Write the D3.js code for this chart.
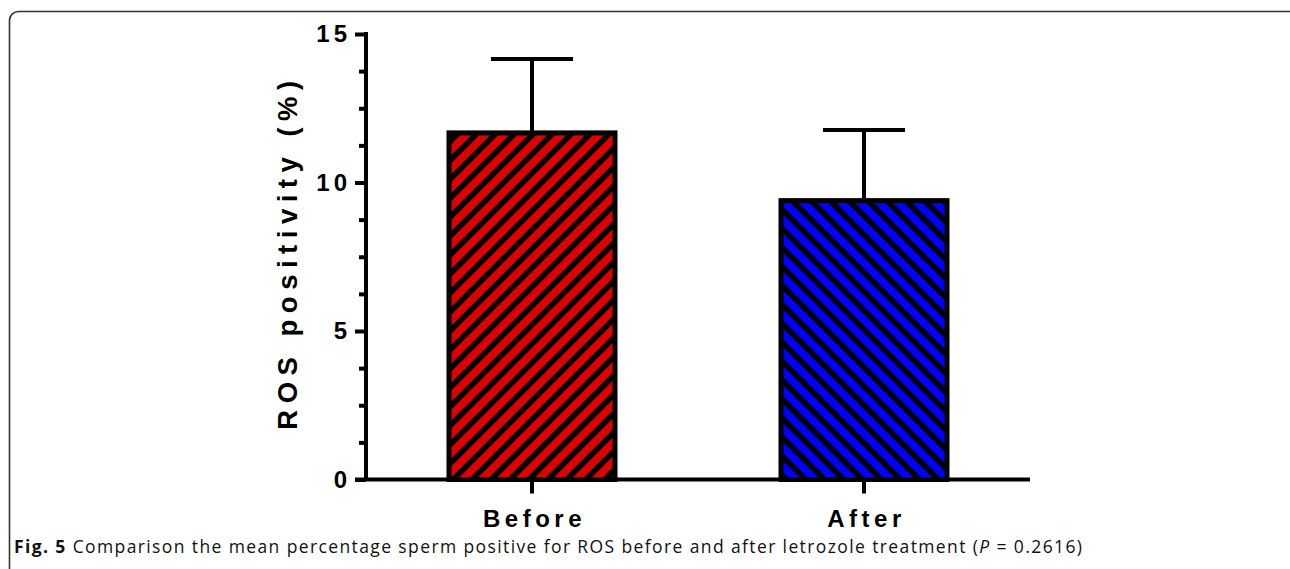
<!DOCTYPE html>
<html><head><meta charset="utf-8">
<script src="https://cdn.jsdelivr.net/npm/d3@7"></script>
<style>html,body{margin:0;padding:0;background:#fff;}svg{display:block;}</style>
</head><body>
<script>
const categories = ["Before", "After"];
const means = [11.67, 9.39];
const errors = [2.49, 2.38];
const fills = ["#dd0000", "#0000ff"];
const yTicks = [0, 5, 10, 15];
const yMinorTicks = [1.25, 2.5, 3.75, 6.25, 7.5, 8.75, 11.25, 12.5, 13.75];
const yLabel = "ROS positivity (%)";

const W = 1290, H = 569;
const svg = d3.select("body").append("svg").attr("width", W).attr("height", H);

// frame
svg.append("rect").attr("x", 9.5).attr("y", 11.5).attr("width", 1290).attr("height", 620)
  .attr("rx", 9).attr("fill", "none").attr("stroke", "#333").attr("stroke-width", 1.6);

const defs = svg.append("defs");
function hatch(id, color, angle) {
  const p = defs.append("pattern").attr("id", id).attr("patternUnits", "userSpaceOnUse")
    .attr("width", 13.4).attr("height", 13.4).attr("patternTransform", `rotate(${angle})`);
  p.append("rect").attr("width", 13.4).attr("height", 13.4).attr("fill", color);
  p.append("rect").attr("width", 5.6).attr("height", 13.4).attr("fill", "#000");
}
hatch("h0", fills[0], 45);
hatch("h1", fills[1], -45);

const x = d3.scaleBand().domain(categories).range([366, 1030]).paddingInner(0.5).paddingOuter(0.25);
const y = d3.scaleLinear().domain([0, 15]).range([479.5, 34]);

const g = svg.append("g");

// bars
g.selectAll("rect.bar").data(categories).enter().append("rect")
  .attr("x", d => x(d)).attr("width", x.bandwidth())
  .attr("y", (d, i) => y(means[i])).attr("height", (d, i) => y(0) - y(means[i]))
  .attr("fill", (d, i) => `url(#h${i})`).attr("stroke", "#000").attr("stroke-width", 5);

// error bars
categories.forEach((c, i) => {
  const cx = x(c) + x.bandwidth() / 2;
  g.append("line").attr("x1", cx).attr("x2", cx).attr("y1", y(means[i]) - 2).attr("y2", y(means[i] + errors[i]))
    .attr("stroke", "#000").attr("stroke-width", 4);
  g.append("line").attr("x1", cx - 41).attr("x2", cx + 41).attr("y1", y(means[i] + errors[i])).attr("y2", y(means[i] + errors[i]))
    .attr("stroke", "#000").attr("stroke-width", 4);
});

// y axis
const yAxis = g.append("g").attr("transform", "translate(366,0)")
  .call(d3.axisLeft(y).tickValues(yTicks).tickSize(11).tickPadding(8).tickFormat(d3.format("d")));
yAxis.select(".domain").attr("stroke-width", 4).attr("d", `M0,${y(15)-2}V${y(0)}`);
yAxis.selectAll(".tick line").attr("stroke-width", 4);
yAxis.selectAll(".tick text").attr("font-family", "Liberation Sans, Arial, sans-serif")
  .attr("font-weight", "bold").attr("font-size", 24).attr("letter-spacing", 4).attr("fill", "#000").attr("dx", 4);
const yMinor = g.append("g").attr("transform", "translate(366,0)")
  .call(d3.axisLeft(y).tickValues(yMinorTicks).tickSize(7).tickFormat(""));
yMinor.select(".domain").remove();
yMinor.selectAll(".tick line").attr("stroke-width", 4);

// x axis
const xAxis = g.append("g").attr("transform", `translate(0,${y(0)})`)
  .call(d3.axisBottom(x).tickSize(14).tickPadding(16));
xAxis.select(".domain").attr("stroke-width", 4).attr("d", "M355,0H1030");
xAxis.selectAll(".tick line").attr("stroke-width", 4);
xAxis.selectAll(".tick text").attr("font-family", "Liberation Sans, Arial, sans-serif")
  .attr("font-weight", "bold").attr("font-size", 24).attr("letter-spacing", 4.5).attr("fill", "#000").attr("dx", 2.5);

// y label
svg.append("text").attr("transform", "translate(297,252) rotate(-90)")
  .attr("text-anchor", "middle").attr("font-family", "Liberation Sans, Arial, sans-serif")
  .attr("font-weight", "bold").attr("font-size", 27.5).attr("letter-spacing", 6.5).text(yLabel);

// caption
const cap = svg.append("text").attr("x", 14).attr("y", 553).attr("font-family", "Open Sans, sans-serif")
  .attr("font-size", 17.5).attr("fill", "#111")
  .attr("textLength", 1068).attr("lengthAdjust", "spacing");
cap.append("tspan").attr("font-weight", "bold").text("Fig. 5");
cap.append("tspan").text(" Comparison the mean percentage sperm positive for ROS before and after letrozole treatment (");
cap.append("tspan").attr("font-style", "italic").text("P");
cap.append("tspan").text(" = 0.2616)");
</script>
</body></html>
